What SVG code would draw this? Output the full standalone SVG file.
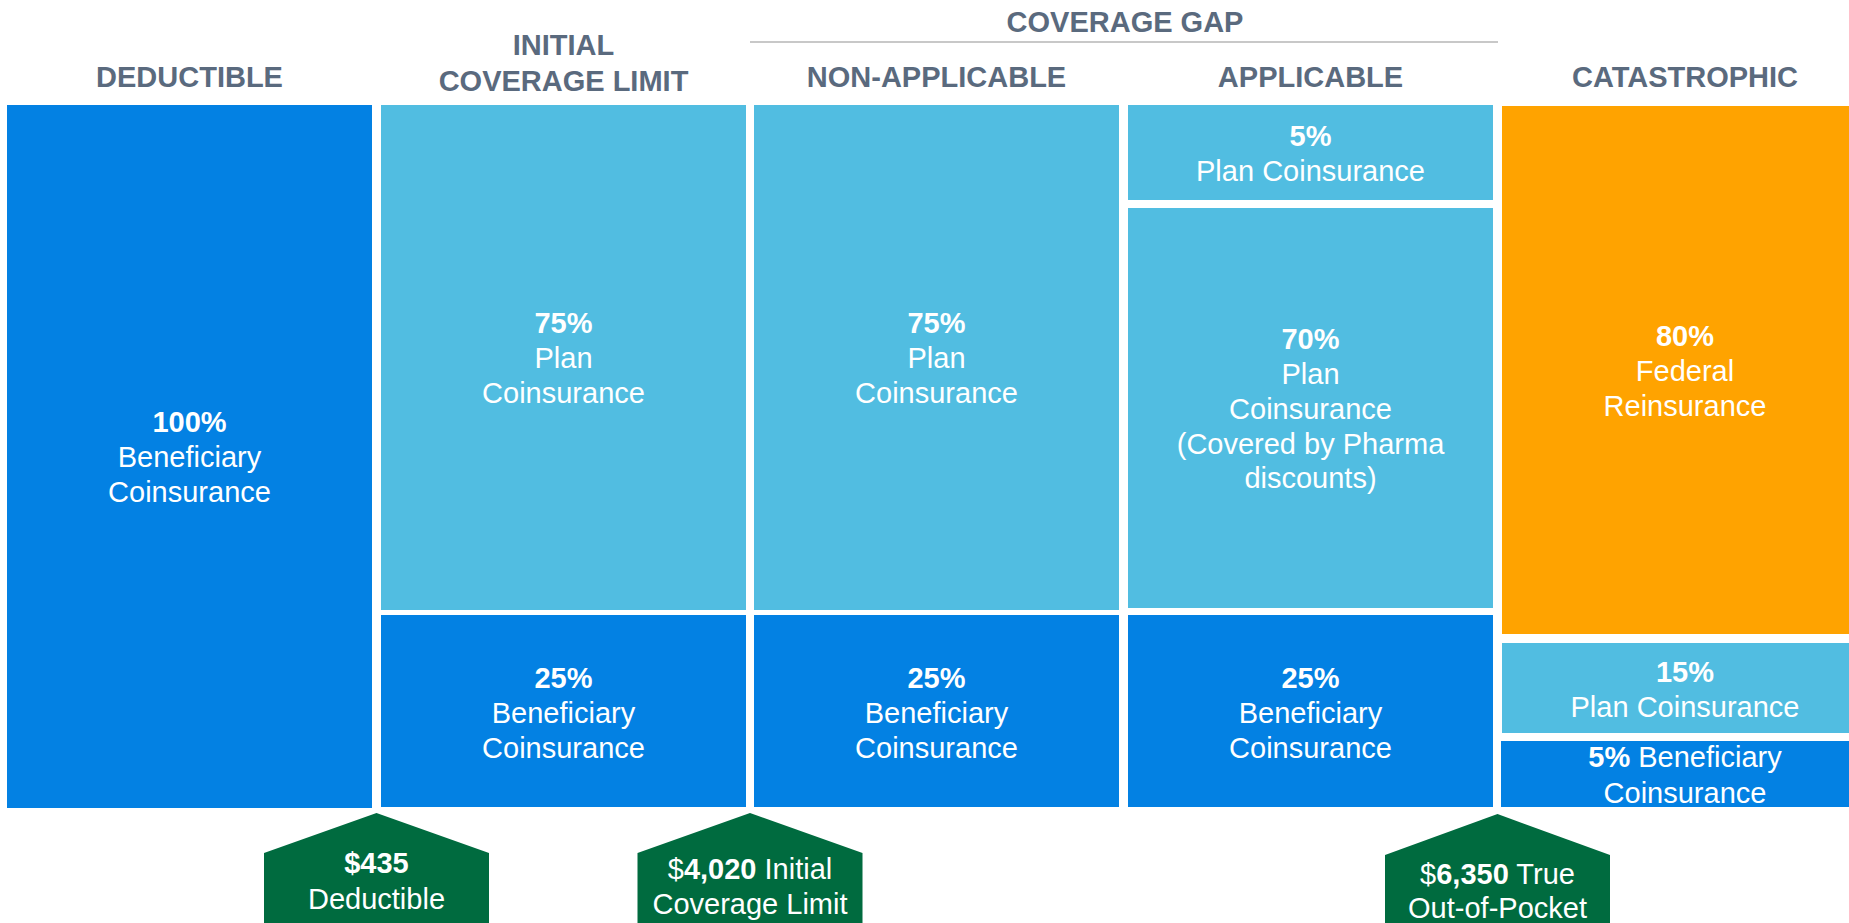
<svg xmlns="http://www.w3.org/2000/svg" width="1849" height="923" viewBox="0 0 1849 923">
  <style>
    .hdr { font-family: "Liberation Sans", Arial, sans-serif; font-size: 29px; font-weight: bold; fill: #5a6a7e; text-anchor: middle; }
    .lbl { font-family: "Liberation Sans", Arial, sans-serif; font-size: 29px; fill: #ffffff; text-anchor: middle; }
    .b { font-weight: bold; }
    .dark { fill: #0381e3; }
    .light { fill: #51bde1; }
    .orange { fill: #ffa300; }
    .marker { fill: #006b3f; }
  </style>
  <rect width="1849" height="923" fill="#ffffff"/>

  <!-- phase headers -->
  <g id="headers">
    <text class="hdr" x="189.5" y="87">DEDUCTIBLE</text>
    <text class="hdr" x="563.5" y="55">INITIAL</text>
    <text class="hdr" x="563.5" y="90.5">COVERAGE LIMIT</text>
    <text class="hdr" x="1125" y="31.5">COVERAGE GAP</text>
    <line x1="750" y1="42" x2="1498" y2="42" stroke="#c8c8c8" stroke-width="2"/>
    <text class="hdr" x="936.5" y="87">NON-APPLICABLE</text>
    <text class="hdr" x="1310.5" y="87">APPLICABLE</text>
    <text class="hdr" x="1685" y="87">CATASTROPHIC</text>
  </g>

  <!-- deductible phase -->
  <g id="deductible">
    <rect class="dark" x="7" y="105" width="365" height="703"/>
    <text class="lbl" x="189.5" y="432"><tspan class="b">100%</tspan></text>
    <text class="lbl" x="189.5" y="467">Beneficiary</text>
    <text class="lbl" x="189.5" y="502">Coinsurance</text>
  </g>

  <!-- initial coverage limit phase -->
  <g id="icl-plan">
    <rect class="light" x="381" y="105" width="365" height="505"/>
    <text class="lbl" x="563.5" y="333"><tspan class="b">75%</tspan></text>
    <text class="lbl" x="563.5" y="368">Plan</text>
    <text class="lbl" x="563.5" y="403">Coinsurance</text>
  </g>
  <g id="icl-beneficiary">
    <rect class="dark" x="381" y="615" width="365" height="192"/>
    <text class="lbl" x="563.5" y="688"><tspan class="b">25%</tspan></text>
    <text class="lbl" x="563.5" y="723">Beneficiary</text>
    <text class="lbl" x="563.5" y="757.5">Coinsurance</text>
  </g>

  <!-- coverage gap, non-applicable -->
  <g id="na-plan">
    <rect class="light" x="754" y="105" width="365" height="505"/>
    <text class="lbl" x="936.5" y="333"><tspan class="b">75%</tspan></text>
    <text class="lbl" x="936.5" y="368">Plan</text>
    <text class="lbl" x="936.5" y="403">Coinsurance</text>
  </g>
  <g id="na-beneficiary">
    <rect class="dark" x="754" y="615" width="365" height="192"/>
    <text class="lbl" x="936.5" y="688"><tspan class="b">25%</tspan></text>
    <text class="lbl" x="936.5" y="723">Beneficiary</text>
    <text class="lbl" x="936.5" y="757.5">Coinsurance</text>
  </g>

  <!-- coverage gap, applicable -->
  <g id="app-plan">
    <rect class="light" x="1128" y="105" width="365" height="95"/>
    <text class="lbl" x="1310.5" y="146"><tspan class="b">5%</tspan></text>
    <text class="lbl" x="1310.5" y="180.5">Plan Coinsurance</text>
  </g>
  <g id="app-pharma">
    <rect class="light" x="1128" y="208" width="365" height="400"/>
    <text class="lbl" x="1310.5" y="349"><tspan class="b">70%</tspan></text>
    <text class="lbl" x="1310.5" y="384">Plan</text>
    <text class="lbl" x="1310.5" y="418.5">Coinsurance</text>
    <text class="lbl" x="1310.5" y="453.5">(Covered by Pharma</text>
    <text class="lbl" x="1310.5" y="488">discounts)</text>
  </g>
  <g id="app-beneficiary">
    <rect class="dark" x="1128" y="615" width="365" height="192"/>
    <text class="lbl" x="1310.5" y="688"><tspan class="b">25%</tspan></text>
    <text class="lbl" x="1310.5" y="723">Beneficiary</text>
    <text class="lbl" x="1310.5" y="757.5">Coinsurance</text>
  </g>

  <!-- catastrophic phase -->
  <g id="cat-federal">
    <rect class="orange" x="1502" y="106" width="365" height="528"/>
    <text class="lbl" x="1685" y="346"><tspan class="b">80%</tspan></text>
    <text class="lbl" x="1685" y="381">Federal</text>
    <text class="lbl" x="1685" y="415.5">Reinsurance</text>
  </g>
  <g id="cat-plan">
    <rect class="light" x="1502" y="643" width="365" height="90"/>
    <text class="lbl" x="1685" y="681.5"><tspan class="b">15%</tspan></text>
    <text class="lbl" x="1685" y="716.5">Plan Coinsurance</text>
  </g>
  <g id="cat-beneficiary">
    <rect class="dark" x="1501" y="741" width="366" height="66"/>
    <text class="lbl" x="1685" y="767"><tspan class="b">5%</tspan> Beneficiary</text>
    <text class="lbl" x="1685" y="802.5">Coinsurance</text>
  </g>

  <!-- threshold markers -->
  <g id="marker-deductible">
    <polygon class="marker" points="376.5,813 489,853 489,923 264,923 264,853"/>
    <text class="lbl" x="376.5" y="873"><tspan class="b">$435</tspan></text>
    <text class="lbl" x="376.5" y="908.5">Deductible</text>
  </g>
  <g id="marker-icl">
    <polygon class="marker" points="750,813 862.5,853 862.5,923 637.5,923 637.5,853"/>
    <text class="lbl" x="750" y="878.5">$<tspan class="b">4,020</tspan> Initial</text>
    <text class="lbl" x="750" y="914">Coverage Limit</text>
  </g>
  <g id="marker-troop">
    <polygon class="marker" points="1497.5,814 1610,855 1610,923 1385,923 1385,855"/>
    <text class="lbl" x="1497.5" y="883.5">$<tspan class="b">6,350</tspan> True</text>
    <text class="lbl" x="1497.5" y="918">Out-of-Pocket</text>
  </g>
</svg>
